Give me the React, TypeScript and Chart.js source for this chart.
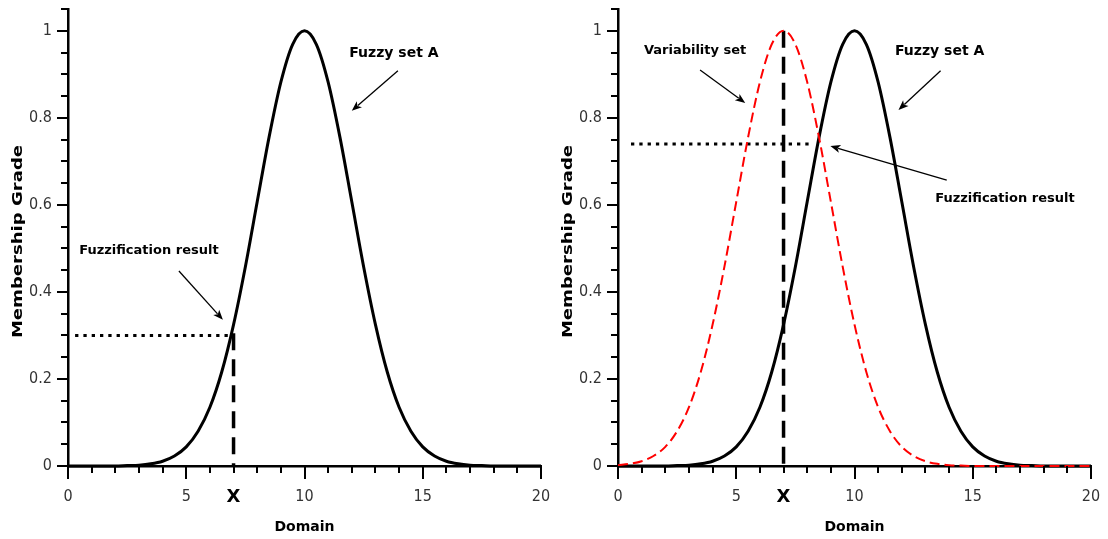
import React, { useEffect, useRef } from "react";
import { Chart, registerables } from "chart.js";

Chart.register(...registerables);

// Domain samples (step 0.5) and membership grades of both sets
const domain = [
  0, 0.5, 1, 1.5, 2, 2.5, 3, 3.5, 4, 4.5, 5, 5.5, 6, 6.5, 7, 7.5, 8, 8.5, 9, 9.5, 10,
  10.5, 11, 11.5, 12, 12.5, 13, 13.5, 14, 14.5, 15, 15.5, 16, 16.5, 17, 17.5, 18, 18.5, 19, 19.5, 20,
];
const fuzzySetA = [
  0, 0, 0, 0, 0, 0.001, 0.002, 0.005, 0.011, 0.023, 0.044, 0.08, 0.135, 0.216, 0.325, 0.458, 0.607,
  0.755, 0.882, 0.969, 1, 0.969, 0.882, 0.755, 0.607, 0.458, 0.325, 0.216, 0.135, 0.08, 0.044, 0.023,
  0.011, 0.005, 0.002, 0.001, 0, 0, 0, 0, 0,
];
const variabilitySet = [
  0.002, 0.005, 0.011, 0.023, 0.044, 0.08, 0.135, 0.216, 0.325, 0.458, 0.607, 0.755, 0.882, 0.969, 1,
  0.969, 0.882, 0.755, 0.607, 0.458, 0.325, 0.216, 0.135, 0.08, 0.044, 0.023, 0.011, 0.005, 0.002,
  0.001, 0, 0, 0, 0, 0, 0, 0, 0, 0, 0, 0,
];

const xTickValues = [0, 5, 10, 15, 20];
const yTickValues = [0, 0.2, 0.4, 0.6, 0.8, 1];

// Crisp input and the grade it produces in each panel
const crispInput = 7;
const singleResult = 0.3;
const combinedResult = 0.74;
const combinedPeak = 1;

type Note = { text: string; x: number; y: number; size: number };
type Arrow = { from: [number, number]; to: [number, number] };

type Panel = {
  offset: number;
  showVariability: boolean;
  result: number;
  dottedFrom: number;
  dottedTo: number;
  dashTop: number;
  notes: Note[];
  arrows: Arrow[];
};

const panels: Panel[] = [
  {
    offset: 0,
    showVariability: false,
    result: singleResult,
    dottedFrom: 0.3,
    dottedTo: 6.95,
    dashTop: 0.305,
    notes: [
      { text: "Fuzzy set A", x: 13.78, y: 0.949, size: 14 },
      { text: "Fuzzification result", x: 3.42, y: 0.494, size: 13 },
    ],
    arrows: [
      { from: [13.95, 0.908], to: [12.0, 0.816] },
      { from: [4.69, 0.448], to: [6.55, 0.336] },
    ],
  },
  {
    offset: 550,
    showVariability: true,
    result: combinedResult,
    dottedFrom: 0.55,
    dottedTo: 8.2,
    dashTop: combinedPeak,
    notes: [
      { text: "Fuzzy set A", x: 13.6, y: 0.952, size: 14 },
      { text: "Variability set", x: 3.26, y: 0.954, size: 13 },
      { text: "Fuzzification result", x: 16.36, y: 0.615, size: 13 },
    ],
    arrows: [
      { from: [13.64, 0.908], to: [11.86, 0.818] },
      { from: [3.47, 0.91], to: [5.38, 0.834] },
      { from: [13.9, 0.657], to: [8.98, 0.735] },
    ],
  },
];

const FONT = "'DejaVu Sans', 'Noto Sans', sans-serif";
const TICK_FONT = "'DejaVu Sans Condensed', 'DejaVu Sans', sans-serif";

function drawArrow(ctx: CanvasRenderingContext2D, x1: number, y1: number, x2: number, y2: number) {
  const ang = Math.atan2(y2 - y1, x2 - x1);
  const head = 10;
  const half = 4;
  const c = Math.cos(ang);
  const s = Math.sin(ang);
  ctx.save();
  ctx.strokeStyle = "#000";
  ctx.fillStyle = "#000";
  ctx.lineWidth = 1.3;
  ctx.beginPath();
  ctx.moveTo(x1, y1);
  ctx.lineTo(x2 - c * head * 0.8, y2 - s * head * 0.8);
  ctx.stroke();
  ctx.beginPath();
  ctx.moveTo(x2, y2);
  ctx.lineTo(x2 - c * head - s * half, y2 - s * head + c * half);
  ctx.lineTo(x2 - c * head * 0.75, y2 - s * head * 0.75);
  ctx.lineTo(x2 - c * head + s * half, y2 - s * head - c * half);
  ctx.closePath();
  ctx.fill();
  ctx.restore();
}

function makeDecor(panel: Panel) {
  return {
    id: "decor",
    afterDraw(chart: any) {
      const ctx: CanvasRenderingContext2D = chart.ctx;
      const xs = chart.scales.x;
      const ys = chart.scales.y;
      const area = chart.chartArea;
      ctx.save();
      ctx.strokeStyle = "#000";
      ctx.lineWidth = 2;
      // x axis ticks: every unit, longer at labelled ones
      for (let v = 0; v <= 20; v++) {
        const p = Math.round(xs.getPixelForValue(v));
        const len = v % 5 === 0 ? 13 : 7;
        ctx.beginPath();
        ctx.moveTo(p, area.bottom);
        ctx.lineTo(p, area.bottom + len);
        ctx.stroke();
      }
      // y axis ticks: every 0.05, longer at labelled ones
      for (let k = 0; k <= 21; k++) {
        const p = Math.round(ys.getPixelForValue(k * 0.05));
        const len = k % 4 === 0 ? 11 : 7;
        ctx.beginPath();
        ctx.moveTo(area.left - len, p);
        ctx.lineTo(area.left, p);
        ctx.stroke();
      }
      // crisp input marker under the axis
      ctx.fillStyle = "#000";
      ctx.font = `bold 18px ${FONT}`;
      ctx.textAlign = "center";
      ctx.textBaseline = "middle";
      ctx.fillText("X", xs.getPixelForValue(crispInput), 497);

      // annotations
      for (const n of panel.notes) {
        ctx.font = `bold ${n.size}px ${FONT}`;
        ctx.fillText(n.text, xs.getPixelForValue(n.x), ys.getPixelForValue(n.y));
      }
      for (const a of panel.arrows) {
        drawArrow(
          ctx,
          xs.getPixelForValue(a.from[0]),
          ys.getPixelForValue(a.from[1]),
          xs.getPixelForValue(a.to[0]),
          ys.getPixelForValue(a.to[1])
        );
      }

      // widened y axis title
      ctx.save();
      ctx.translate(18, (area.top + area.bottom) / 2 + 4);
      ctx.rotate(-Math.PI / 2);
      ctx.scale(1.29, 1);
      ctx.font = `bold 14px ${FONT}`;
      ctx.fillText("Membership Grade", 0, 0);
      ctx.restore();
      ctx.restore();
    },
  };
}

// keep the plot area fixed by dropping the label overhang padding
const clearPadding = (s: any) => {
  s.paddingTop = 0;
  s.paddingBottom = 0;
  s.paddingLeft = 0;
  s.paddingRight = 0;
};

function PanelChart({ panel }: { panel: Panel }) {
  const ref = useRef<HTMLCanvasElement | null>(null);

  useEffect(() => {
    if (!ref.current) return;
    const curve = (vals: number[]) => domain.map((x, i) => ({ x, y: vals[i] }));
    const datasets: any[] = [];
    if (panel.showVariability) {
      datasets.push({
        data: curve(variabilitySet),
        borderColor: "#ff0000",
        borderWidth: 2,
        borderDash: [10, 5],
        cubicInterpolationMode: "monotone",
        pointRadius: 0,
      });
    }
    datasets.push({
      data: curve(fuzzySetA),
      borderColor: "#000",
      borderWidth: 3,
      cubicInterpolationMode: "monotone",
      pointRadius: 0,
    });
    datasets.push({
      data: [
        { x: panel.dottedFrom, y: panel.result },
        { x: panel.dottedTo, y: panel.result },
      ],
      borderColor: "#000",
      borderWidth: 3,
      borderDash: [3.3, 5],
      borderCapStyle: "butt",
      pointRadius: 0,
    });
    datasets.push({
      data: [
        { x: crispInput, y: panel.dashTop },
        { x: crispInput, y: 0 },
      ],
      borderColor: "#000",
      borderWidth: 3.5,
      borderDash: [17, 9],
      borderCapStyle: "butt",
      pointRadius: 0,
    });

    const chart = new Chart(ref.current, {
      type: "line",
      data: { datasets },
      options: {
        responsive: false,
        animation: false,
        devicePixelRatio: 1,
        events: [],
        layout: { padding: { top: 9, right: 13, left: 0, bottom: 0 } },
        plugins: { legend: { display: false }, tooltip: { enabled: false } },
        elements: { line: { fill: false } },
        datasets: { line: { clip: false } as any },
        scales: {
          x: {
            type: "linear",
            min: 0,
            max: 20,
            afterFit: (s: any) => {
              s.height = 73;
              clearPadding(s);
            },
            afterBuildTicks: (s: any) => {
              s.ticks = xTickValues.map((value) => ({ value }));
            },
            grid: { display: true, drawOnChartArea: false, drawTicks: false },
            border: { display: true, color: "#000", width: 2.5 },
            ticks: {
              padding: 21,
              color: "#333",
              autoSkip: false,
              maxRotation: 0,
              font: { family: TICK_FONT, size: 16 },
              callback: (v: any) => String(v),
            },
            title: {
              display: true,
              text: "Domain",
              color: "#000",
              font: { family: FONT, size: 14, weight: "bold" },
              padding: { top: 0, bottom: 3 },
            },
          },
          y: {
            type: "linear",
            min: 0,
            max: 1.05,
            afterFit: (s: any) => {
              s.width = 68;
              clearPadding(s);
            },
            afterBuildTicks: (s: any) => {
              s.ticks = yTickValues.map((value) => ({ value }));
            },
            grid: { display: true, drawOnChartArea: false, drawTicks: false },
            border: { display: true, color: "#000", width: 2.5 },
            ticks: {
              padding: 16,
              color: "#333",
              autoSkip: false,
              font: { family: TICK_FONT, size: 16 },
              callback: (v: any) => String(Math.round(Number(v) * 10) / 10),
            },
          },
        },
      },
      plugins: [makeDecor(panel)],
    } as any);
    return () => chart.destroy();
  }, [panel]);

  return (
    <canvas
      ref={ref}
      width={554}
      height={539}
      style={{ position: "absolute", left: panel.offset, top: 0, width: 554, height: 539 }}
    />
  );
}

export default function App() {
  return (
    <div
      style={{
        position: "absolute",
        left: 0,
        top: 0,
        width: 1108,
        height: 539,
        background: "#fff",
        overflow: "hidden",
      }}
    >
      {panels.map((p, i) => (
        <PanelChart key={i} panel={p} />
      ))}
    </div>
  );
}
